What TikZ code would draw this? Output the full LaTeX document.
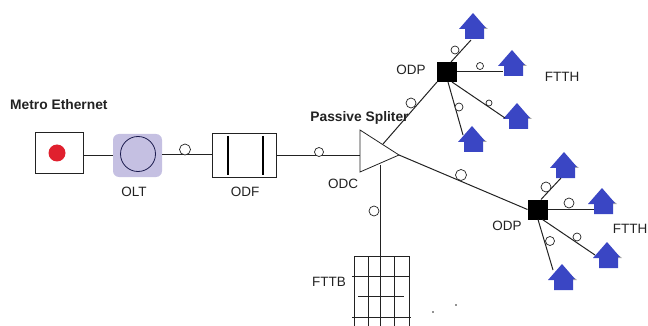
\documentclass[tikz,border=0pt]{standalone}
\usepackage{fontspec}
\setmainfont{Liberation Sans}
\definecolor{houseblue}{HTML}{3A46C4}
\definecolor{oltfill}{HTML}{C5C0E2}
\definecolor{ink}{HTML}{222222}
\definecolor{dotred}{HTML}{E0202E}
\tikzset{
  lab/.style={font=\fontsize{13.5}{15}\selectfont, text=ink, inner sep=0pt},
  boldlab/.style={font=\fontsize{13.8}{15}\selectfont\bfseries, text=ink, inner sep=0pt},
  wire/.style={draw=ink, line width=1pt},
  boxed/.style={draw=ink, line width=1pt, fill=white, inner sep=0pt, outer sep=0pt},
  ring/.style={circle, draw=ink, line width=0.7pt, fill=white, inner sep=0pt, outer sep=0pt},
  odpbox/.style={fill=black, minimum size=20pt, inner sep=0pt, outer sep=0pt},
  bar/.style={line width=2pt, draw=black},
  grid line/.style={draw=ink, line width=0.9pt},
}
% house: #1 name, (#2,#3) apex, drawn in pixel units
\newcommand{\housepic}[3]{%
  \fill[gray!70] (#2+10,#3+12) -- (#2+15,#3+16) -- (#2+10,#3+16) -- cycle;
  \fill[houseblue] (#2,#3) -- (#2+13,#3+15) -- (#2+11,#3+15) -- (#2+11,#3+26) -- (#2-8,#3+26) -- (#2-8,#3+16) -- (#2-14,#3+16) -- cycle;
  \coordinate (#1) at (#2,#3+14);
}
\begin{document}
\begin{tikzpicture}[x=1pt,y=-1pt]
\useasboundingbox (0,0) rectangle (648,326);
\clip (0,0) rectangle (648,326);
\node[boxed, minimum width=48pt, minimum height=41pt] (metro) at (59,153.5) {};
\fill[dotred] (57,153) circle (8.5);
\node[fill=oltfill, rounded corners=6pt, minimum width=49pt, minimum height=43pt, inner sep=0pt, outer sep=0pt] (olt) at (137.5,155.5) {};
\node[circle, draw=ink!80!blue, fill=oltfill, line width=0.8pt, minimum size=35pt, inner sep=0pt] (oltc) at (138,154) {};
\node[boxed, minimum width=64pt, minimum height=43pt] (odf) at (244,155.5) {};
\draw[bar] (227.5,136) -- (227.5,175);
\draw[bar] (262.5,136) -- (262.5,175);
% splitter
\coordinate (sa) at (360,130);
\coordinate (sb) at (360,172);
\coordinate (tip) at (399,155);
\coordinate (sleft) at (360,155.5);
\coordinate (supper) at (383,144);
\coordinate (slower) at (380,165);
\draw[draw=ink, line width=0.8pt] (sa) -- (tip) -- (sb) -- cycle;
% ODP squares
\node[odpbox] (odpa) at (447,72) {};
\node[odpbox] (odpb) at (537.5,209.5) {};
% houses
\housepic{ha}{473}{13}
\housepic{hb}{512}{50}
\housepic{hc}{517}{103}
\housepic{hd}{472}{126}
\housepic{he}{564}{152}
\housepic{hf}{602}{188}
\housepic{hg}{607}{242}
\housepic{hh}{562}{264}
% anchors at the houses where cables arrive
\coordinate (haw) at (471,40);
\coordinate (hbw) at (503,72);
\coordinate (hcw) at (505,118);
\coordinate (hdw) at (463,135);
\coordinate (hew) at (561,178);
\coordinate (hfw) at (594,209.5);
\coordinate (hgw) at (595,255);
\coordinate (hhw) at (553,270);
% building
\foreach \xx in {354,368,380,394,409} \draw[grid line] (\xx,256) -- (\xx,326);
\draw[grid line] (354,256) -- (409,256);
\draw[grid line] (352,276) -- (410,276);
\draw[grid line] (358,296) -- (404,296);
\draw[grid line] (352,317) -- (411,317);
\coordinate (fttb) at (380,256);
% connectors
\draw[wire] (metro.east |- 0,156) -- (olt.west |- 0,156);
\draw[wire] (olt.east |- 0,154.5) -- (odf.west |- 0,154.5);
\draw[wire] (odf.east) -- (sleft);
\draw[wire] (supper) -- (odpa.south west);
\draw[wire] (tip) -- (odpb.west);
\draw[wire] (slower) -- (fttb);
\draw[wire] (odpa.north) ++(4,0) -- (haw);
\draw[wire] (odpa.east) -- (hbw);
\draw[wire] (odpa.south east) ++(-5,0) -- (hcw);
\draw[wire] (odpa.south) ++(1,0) -- (hdw);
\draw[wire] (odpb.north) ++(3.5,0) -- (hew);
\draw[wire] (odpb.east) -- (hfw);
\draw[wire] (odpb.south) ++(5,0) -- (hgw);
\draw[wire] (odpb.south) ++(0.5,0) -- (hhw);
% small rings
\node[ring, minimum size=11pt] (r1) at (185,149.5) {};
\node[ring, minimum size=9pt] (r2) at (319,152) {};
\node[ring, minimum size=10pt] (r3) at (411,103) {};
\node[ring, minimum size=11pt] (r4) at (461,175) {};
\node[ring, minimum size=10pt] (r5) at (374,211) {};
\node[ring, minimum size=8pt] (r6) at (455,50) {};
\node[ring, minimum size=7pt] (r7) at (480,66) {};
\node[ring, minimum size=6pt] (r8) at (489,103) {};
\node[ring, minimum size=8pt] (r9) at (459,107) {};
\node[ring, minimum size=10pt] (r10) at (546,187) {};
\node[ring, minimum size=10pt] (r11) at (569,203) {};
\node[ring, minimum size=8pt] (r12) at (577,237) {};
\node[ring, minimum size=9pt] (r13) at (550,241) {};
% specks
\fill[ink] (433,312) circle (0.8);
\fill[ink] (456,305) circle (0.8);
% labels
\node[boldlab, anchor=west] (tmetro) at (10,104.5) {Metro Ethernet};
\node[lab] (tolt) at (134,192) {OLT};
\node[lab] (todf) at (245,192) {ODF};
\node[boldlab] (tspl) at (359.5,117.5) {Passive Spliter};
\node[lab] (todc) at (343,184) {ODC};
\node[lab] (todpa) at (411,70) {ODP};
\node[lab] (tftha) at (562,76.5) {FTTH};
\node[lab] (todpb) at (507,226) {ODP};
\node[lab, anchor=east] (tfthb) at (647.5,229) {FTTH};
\node[lab] (tfttb) at (329,282) {FTTB};
\end{tikzpicture}
\end{document}
